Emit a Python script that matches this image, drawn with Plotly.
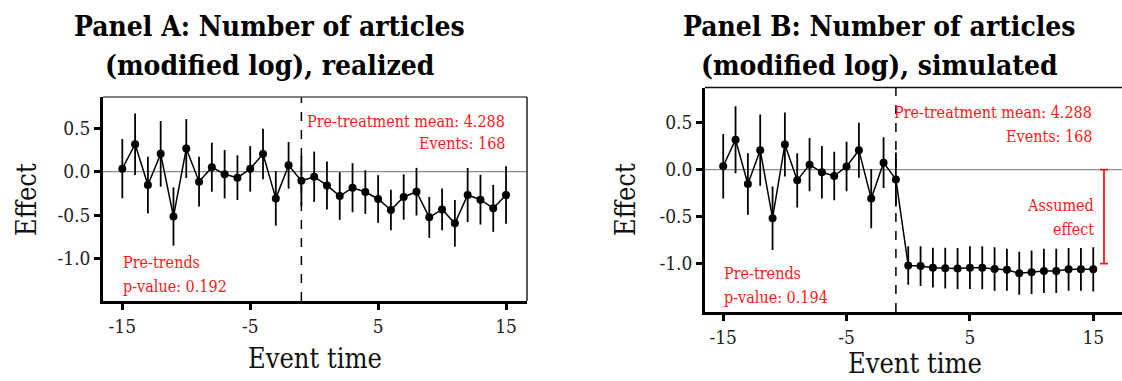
import plotly.graph_objects as go

# Event-study estimates, event time -15 .. 15
event_time = list(range(-15, 16))

# Pre-period estimates (shared by both panels)
pre_est = [0.035, 0.317, -0.154, 0.206, -0.517, 0.267, -0.115, 0.052,
           -0.029, -0.069, 0.033, 0.204, -0.308, 0.073, -0.105]
pre_ci = [0.342, 0.356, 0.327, 0.379, 0.337, 0.340, 0.288, 0.283,
          0.279, 0.258, 0.263, 0.292, 0.315, 0.269, 0.287]

# Panel A: realized post-period estimates
post_est_a = [-0.058, -0.158, -0.281, -0.185, -0.235, -0.315, -0.442, -0.292,
              -0.231, -0.527, -0.435, -0.596, -0.269, -0.323, -0.423, -0.269]
post_ci_a = [0.290, 0.277, 0.275, 0.283, 0.252, 0.275, 0.233, 0.262,
             0.275, 0.237, 0.240, 0.269, 0.312, 0.287, 0.271, 0.331]

# Panel B: simulated post-period estimates
post_est_b = [-1.019, -1.025, -1.042, -1.047, -1.051, -1.042, -1.042, -1.056,
              -1.065, -1.102, -1.091, -1.077, -1.077, -1.060, -1.060, -1.060]
post_ci_b = [0.205, 0.211, 0.211, 0.216, 0.219, 0.228, 0.228, 0.232,
             0.223, 0.228, 0.232, 0.235, 0.235, 0.228, 0.228, 0.235]

assumed_effect = -1.0

est_a = pre_est + post_est_a
ci_a = pre_ci + post_ci_a
est_b = pre_est + post_est_b
ci_b = pre_ci + post_ci_b

x_ticks = [-15, -5, 5, 15]
y_ticks = [0.5, 0.0, -0.5, -1.0]
y_ticktext = ["0.5", "0.0", "-0.5", "-1.0"]

SERIF = "DejaVu Serif Condensed, DejaVu Serif, serif"
RED = "#ff1a1a"

fig = go.Figure()


def add_series(est, ci, xa, ya):
    fig.add_trace(go.Scatter(
        x=event_time, y=est, xaxis=xa, yaxis=ya,
        mode="lines+markers",
        line=dict(color="black", width=1.5),
        marker=dict(color="black", size=8),
        error_y=dict(type="data", array=ci, visible=True,
                     color="black", thickness=1.8, width=0),
        showlegend=False, hoverinfo="skip",
    ))


add_series(est_a, ci_a, "x", "y")
add_series(est_b, ci_b, "x2", "y2")

# Bracket showing the assumed effect size in Panel B
fig.add_trace(go.Scatter(
    x=[15.87], y=[assumed_effect / 2], xaxis="x2", yaxis="y2",
    mode="markers", marker=dict(size=1, color="rgba(0,0,0,0)"),
    error_y=dict(type="data", array=[abs(assumed_effect) / 2], visible=True,
                 color=RED, thickness=1.8, width=4),
    showlegend=False, hoverinfo="skip",
))

axis_common = dict(
    showgrid=False, zeroline=False, showline=True, linecolor="black",
    linewidth=2.5, ticks="outside", ticklen=6, tickwidth=2.5,
    tickcolor="black", tickfont=dict(family=SERIF, size=19, color="#222"),
)

fig.update_layout(
    width=1122, height=381,
    margin=dict(l=0, r=0, t=0, b=0),
    paper_bgcolor="white", plot_bgcolor="white",
    xaxis=dict(domain=[0.0918, 0.4697], range=[-16.51, 16.64],
               tickvals=x_ticks, ticktext=[str(v) for v in x_ticks],
               anchor="y", **axis_common),
    yaxis=dict(domain=[0.21, 0.7454], range=[-1.492, 0.862],
               tickvals=y_ticks, ticktext=y_ticktext, anchor="x",
               **axis_common),
    xaxis2=dict(domain=[0.6283, 1.0], range=[-16.48, 17.33],
                tickvals=x_ticks, ticktext=[str(v) for v in x_ticks],
                anchor="y2", **axis_common),
    yaxis2=dict(domain=[0.1811, 0.7703], range=[-1.513, 0.871],
                tickvals=y_ticks, ticktext=y_ticktext, anchor="x2",
                **axis_common),
)

shapes = []
for xr, yr in (("x", "y"), ("x2", "y2")):
    # zero reference line
    shapes.append(dict(type="line", xref=f"{xr} domain", yref=yr,
                       x0=0, x1=1, y0=0, y1=0,
                       line=dict(color="#8c8c8c", width=1.3), layer="below"))
    # treatment onset
    shapes.append(dict(type="line", xref=xr, yref=f"{yr} domain",
                       x0=-1, x1=-1, y0=0, y1=1,
                       line=dict(color="black", width=1.5, dash="dash")))
# Panel A frame (top and right)
shapes.append(dict(type="line", xref="x domain", yref="y domain",
                   x0=0, x1=1, y0=1, y1=1,
                   line=dict(color="#555555", width=1.5)))
shapes.append(dict(type="line", xref="x domain", yref="y domain",
                   x0=1, x1=1, y0=0, y1=1,
                   line=dict(color="#222222", width=1.5)))
# Panel B frame (top)
shapes.append(dict(type="line", xref="x2 domain", yref="y2 domain",
                   x0=0, x1=1, y0=1, y1=1,
                   line=dict(color="#111111", width=1.5)))
fig.update_layout(shapes=shapes)

ann = []


def text(x, y, s, xr, yr, xanchor, size=16, color=RED):
    ann.append(dict(x=x, y=y, xref=xr, yref=yr, text=s, showarrow=False,
                    xanchor=xanchor, yanchor="middle",
                    font=dict(family=SERIF, size=size, color=color)))


# Panel A notes
text(15.1, 0.585, "Pre-treatment mean: 4.288", "x", "y", "right")
text(15.1, 0.32, "Events: 168", "x", "y", "right")
text(-15.1, -1.053, "Pre-trends", "x", "y", "left")
text(-15.1, -1.33, "p-value: 0.192", "x", "y", "left")

# Panel B notes
text(15.1, 0.609, "Pre-treatment mean: 4.288", "x2", "y2", "right")
text(15.1, 0.354, "Events: 168", "x2", "y2", "right")
text(-15.1, -1.099, "Pre-trends", "x2", "y2", "left")
text(-15.1, -1.354, "p-value: 0.194", "x2", "y2", "left")
text(15.25, -0.377, "Assumed", "x2", "y2", "right")
text(15.25, -0.632, "effect", "x2", "y2", "right")

# Panel titles
for xc, line2 in ((0.2406, "(modified log), realized"),
                  (0.7843, "(modified log), simulated")):
    panel = "A" if "realized" in line2 else "B"
    ann.append(dict(x=xc, y=1 - 27 / 381, xref="paper", yref="paper",
                    text=f"<b>Panel {panel}: Number of articles</b>",
                    showarrow=False, xanchor="center", yanchor="middle",
                    font=dict(family=SERIF, size=28, color="black")))
    ann.append(dict(x=xc, y=1 - 65 / 381, xref="paper", yref="paper",
                    text=f"<b>{line2}</b>",
                    showarrow=False, xanchor="center", yanchor="middle",
                    font=dict(family=SERIF, size=28, color="black")))

# Axis titles
for xc, yc in ((26, 200), (625, 200)):
    ann.append(dict(x=xc / 1122, y=1 - yc / 381, xref="paper", yref="paper",
                    text="Effect", textangle=-90, showarrow=False,
                    xanchor="center", yanchor="middle",
                    font=dict(family=SERIF, size=27, color="#111")))
for xc, yc in ((315, 358), (915, 363)):
    ann.append(dict(x=xc / 1122, y=1 - yc / 381, xref="paper", yref="paper",
                    text="Event time", showarrow=False,
                    xanchor="center", yanchor="middle",
                    font=dict(family=SERIF, size=27, color="#111")))

fig.update_layout(annotations=ann)

fig.write_html("out.html")
